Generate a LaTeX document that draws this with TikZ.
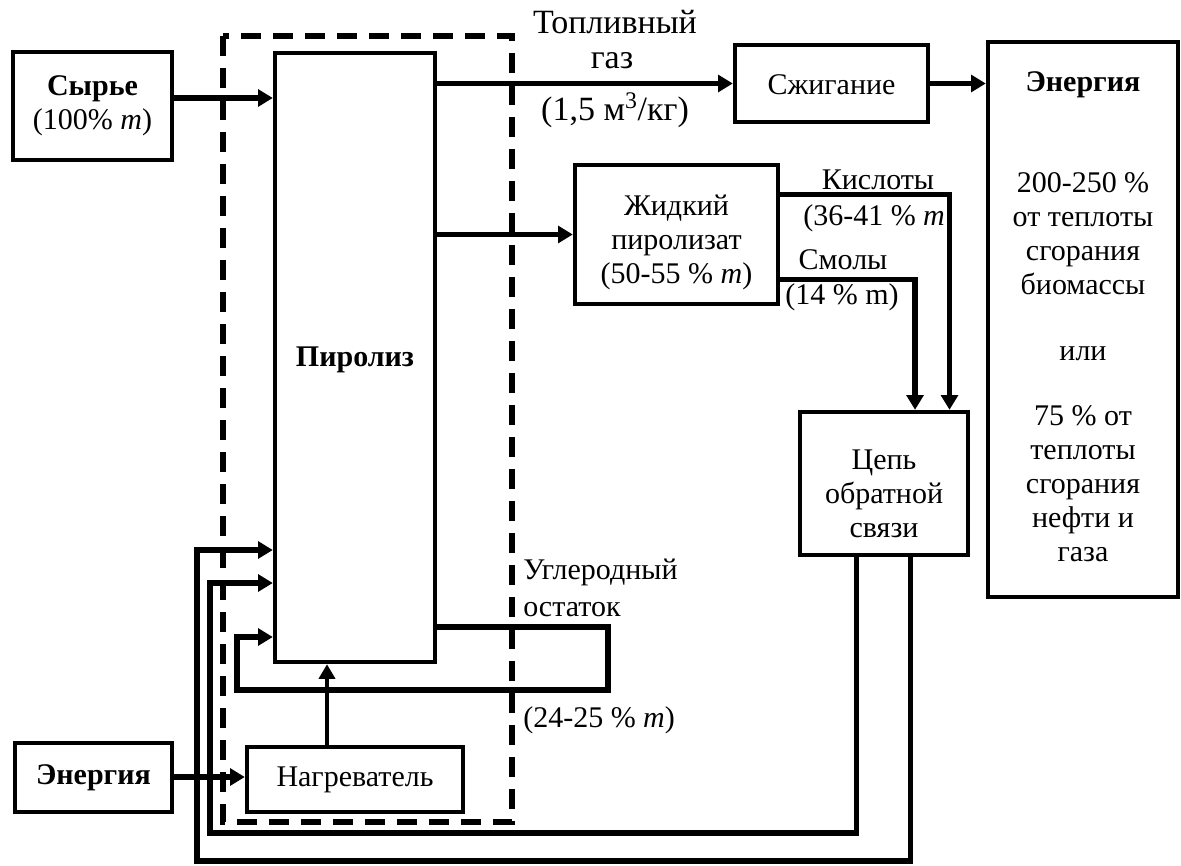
\documentclass[tikz,border=0pt]{standalone}
\usepackage{fontspec}
\setmainfont{Liberation Serif}
\usetikzlibrary{arrows.meta,fit,calc}
\begin{document}
\begin{tikzpicture}[x=0.75pt,y=-0.75pt,
  txt/.style={font=\fontsize{22.5}{25.5}\selectfont, inner sep=0pt, align=center},
  bigtxt/.style={font=\fontsize{25.5}{28}\selectfont, inner sep=0pt, align=center},
  box/.style={draw, line width=3.3pt, inner sep=0pt},
  conn/.style={line width=4pt, line join=miter},
  arr/.style={conn, -{Triangle[length=11pt,width=12.5pt]}},
  thinarr/.style={line width=3.3pt, -{Triangle[length=11pt,width=12pt]}},
  dashbox/.style={draw, line width=3.8pt, dash pattern=on 15pt off 9pt}]
\useasboundingbox (0,0) rectangle (1181,866);
\fill[white] (0,0) rectangle (1181,866);
% dashed reactor boundary
\draw[dashbox] (223,36) rectangle (512,822);
% boxes
\node[box, fit={(13,52) (172,160)}] (syr) {};
\node[box, fit={(275,53) (435,662)}] (pyr) {};
\node[box, fit={(735,45) (928,122)}] (szh) {};
\node[box, fit={(988,42) (1178,597)}] (en) {};
\node[box, fit={(575,165) (778,304)}] (liq) {};
\node[box, fit={(800,412) (968,555)}] (cep) {};
\node[box, fit={(247,747) (463,812)}] (heat) {};
\node[box, fit={(15,743) (172,812)}] (enin) {};
% box texts
\node[txt] (tsyr) at (syr.center) {\textbf{Сырье}\\(100\% \textit{m})};
\node[txt] (tpyr) at ([yshift=-2pt]pyr.center) {\textbf{Пиролиз}};
\node[txt] (tszh) at ([yshift=-1pt]szh.center) {Сжигание};
\node[txt] (ten) at ([yshift=2pt]en.center) {\textbf{Энергия}\\[50pt]200-250 \%\\от теплоты\\сгорания\\биомассы\\[24pt]или\\[23pt]75 \% от\\теплоты\\сгорания\\нефти и\\газа};
\node[txt] (tliq) at ([yshift=-6pt]liq.center) {Жидкий\\пиролизат\\(50-55 \% \textit{m})};
\node[txt] (tcep) at ([yshift=-8pt]cep.center) {Цепь\\обратной\\связи};
\node[txt] (theat) at (heat.center) {Нагреватель};
\node[txt] (tenin) at (enin.center) {\textbf{Энергия}};
% labels
\node[bigtxt] (l1) at (615,22) {Топливный};
\node[bigtxt] (l2) at (612,61) {газ};
\node[bigtxt] (l3) at (615,110) {(1,5 м\textsuperscript{3}/кг)};
\node[txt] (l4) at (878,180) {Кислоты};
\node[txt, anchor=west] (l5) at (803,218) {(36-41 \% \textit{m}};
\node[txt] (l6) at (843,260) {Смолы};
\node[txt, anchor=west] (l7) at (785,297) {(14 \% m)};
\node[txt, anchor=west] (l8) at (523,572) {Углеродный};
\node[txt, anchor=west] (l9) at (523,610) {остаток};
\node[txt, anchor=west] (l10) at (523,720) {(24-25 \% \textit{m})};
% connectors
\draw[arr] ([yshift=6pt]syr.east) -- ([yshift=6pt]syr.east -| pyr.west);
\draw[arr] (pyr.east |- szh.west) -- (szh.west);
\draw[arr] (szh.east) -- (szh.east -| en.west);
\draw[arr] (pyr.east |- liq.west) -- (liq.west);
\draw[arr] ([yshift=-24pt]liq.north east) -| ($(cep.north west)!.88!(cep.north east)$);
\draw[arr] ([yshift=20pt]liq.south east) -| ($(cep.north west)!.68!(cep.north east)$);
\draw[arr] ($(cep.south west)!.34!(cep.south east)$) |- (210,833) |- (pyr.west |- 0,583);
\draw[arr] ($(cep.south west)!.655!(cep.south east)$) |- (197,861) |- (pyr.west |- 0,550);
\draw[arr] (pyr.east |- 0,627) -| (608,690) -| (237,660) |- (pyr.west |- 0,637);
\draw[thinarr] (heat.north -| 327,0) -- (pyr.south -| 327,0);
\draw[arr] (enin.east |- 0,777) -- (heat.west |- 0,777);
\end{tikzpicture}
\end{document}
